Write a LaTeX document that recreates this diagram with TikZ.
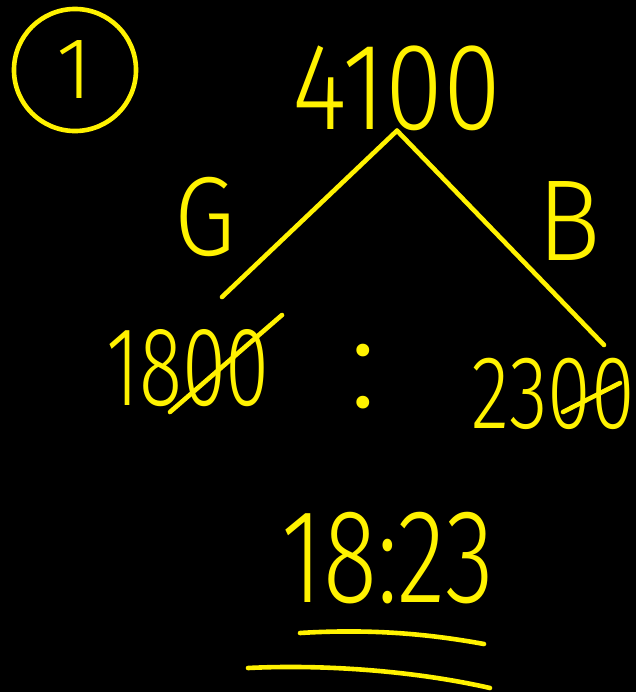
\documentclass[tikz,border=0pt]{standalone}
\usepackage{fontspec}
\setmainfont{Fira Sans}[UprightFont=* Light]
\usetikzlibrary{calc}
\definecolor{pen}{RGB}{255,242,0}
\tikzset{
  ink/.style={draw=pen, line width=1.15mm, line cap=round, line join=round},
  hw/.style={text=pen, inner sep=0pt, anchor=base, font=\fontsize{#1}{#1}\selectfont},
}
\newcommand{\nar}[2]{\scalebox{#1}[1]{#2}}

\begin{document}
\begin{tikzpicture}[x=0.025cm, y=-0.025cm]
  \useasboundingbox (0,0) rectangle (636,692);
  \fill[black] (0,0) rectangle (636,692);
  % question number
  \node[ink, circle, minimum size=3.05cm, inner sep=0pt, text=pen, font=\fontsize{62}{62}\selectfont] (qno) at (75,70) {1};
  % total split into girls and boys
  \node[hw=88] (total) at (397,129) {\nar{0.85}{4100}};
  \coordinate (gend) at (222,297);
  \coordinate (bend) at (604,345);
  \draw[ink] (total.south) -- (gend);
  \draw[ink] (total.south) -- (bend);
  \node[hw=80] (glab) at (205,255) {\nar{0.88}{G}};
  \node[hw=82] (blab) at (569,260) {\nar{0.92}{B}};
  % ratio, zeros cancelled
  \node[hw=80] (girls) at (188,405) {\nar{0.71}{1800}};
  \node[hw=95] (sep) at (363,407) {:};
  \node[hw=74] (boys) at (553,428) {\nar{0.76}{2300}};
  \draw[ink] (170,412) -- (282,315);
  \draw[ink] (563,412) -- (620,383);
  % answer
  \node[hw=95] (ans) at (388,602) {\nar{0.75}{18:23}};
  \draw[ink] (300,633) .. controls (380,628) and (440,636) .. (484,644);
  \draw[ink] (248,668) .. controls (330,664) and (420,672) .. (490,688);
\end{tikzpicture}
\end{document}
